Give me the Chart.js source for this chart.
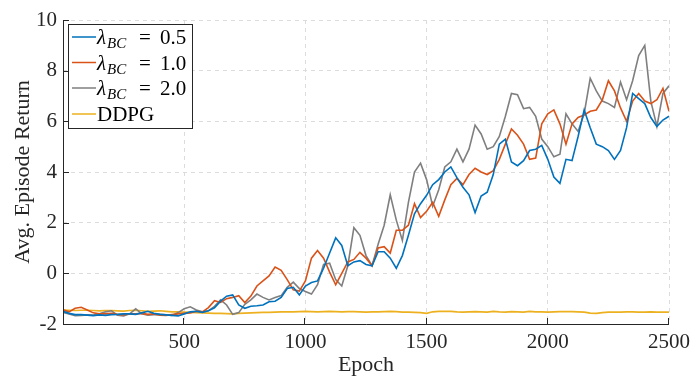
<!DOCTYPE html>
<html>
<head>
<meta charset="utf-8">
<script src="https://cdn.jsdelivr.net/npm/chart.js@4.4.1/dist/chart.umd.min.js"></script>
<style>
  html, body { margin: 0; padding: 0; background: #fff; }
  #wrap { width: 690px; height: 378px; }
</style>
</head>
<body>
<div id="wrap"><canvas id="myChart" width="690" height="378"></canvas></div>
<script>
// training curves: avg. episode return per epoch
const epochs = [
  0, 25, 50, 75, 100, 125, 150, 175, 200, 225, 250, 275, 300, 325, 350, 375, 400, 425, 450, 475,
  500, 525, 550, 575, 600, 625, 650, 675, 700, 725, 750, 775, 800, 825, 850, 875, 900, 925, 950, 975,
  1000, 1025, 1050, 1075, 1100, 1125, 1150, 1175, 1200, 1225, 1250, 1275, 1300, 1325, 1350, 1375, 1400, 1425, 1450, 1475,
  1500, 1525, 1550, 1575, 1600, 1625, 1650, 1675, 1700, 1725, 1750, 1775, 1800, 1825, 1850, 1875, 1900, 1925, 1950, 1975,
  2000, 2025, 2050, 2075, 2100, 2125, 2150, 2175, 2200, 2225, 2250, 2275, 2300, 2325, 2350, 2375, 2400, 2425, 2450, 2475,
  2500
];

const bc05 = [
  -1.50, -1.58, -1.63, -1.63, -1.65, -1.67, -1.64, -1.66, -1.63, -1.62, -1.60, -1.60, -1.62, -1.56, -1.50, -1.58, -1.62, -1.64, -1.66, -1.68,
  -1.60, -1.52, -1.50, -1.54, -1.48, -1.36, -1.10, -0.90, -0.85, -1.25, -1.38, -1.30, -1.28, -1.25, -1.12, -1.10, -0.95, -0.60, -0.55, -0.85,
  -0.50, -0.36, -0.30, 0.20, 0.80, 1.40, 1.10, 0.30, 0.45, 0.50, 0.35, 0.30, 0.85, 0.85, 0.60, 0.20, 0.70, 1.50, 2.35, 2.75,
  3.08, 3.50, 3.70, 4.00, 4.20, 3.78, 3.40, 3.10, 2.40, 3.05, 3.20, 3.90, 5.10, 5.30, 4.40, 4.25, 4.45, 4.85, 4.90, 5.05,
  4.50, 3.80, 3.55, 4.50, 4.45, 5.40, 6.45, 5.75, 5.10, 5.00, 4.85, 4.50, 4.85, 5.75, 7.10, 6.90, 6.70, 6.15, 5.80, 6.05,
  6.20
];

const bc10 = [
  -1.44, -1.52, -1.38, -1.34, -1.45, -1.56, -1.60, -1.60, -1.58, -1.62, -1.63, -1.60, -1.60, -1.58, -1.62, -1.60, -1.65, -1.66, -1.63, -1.60,
  -1.58, -1.56, -1.50, -1.52, -1.35, -1.08, -1.15, -1.00, -0.95, -0.88, -1.15, -0.90, -0.50, -0.30, -0.10, 0.25, 0.12, -0.25, -0.65, -0.70,
  -0.30, 0.60, 0.90, 0.60, 0.05, -0.45, 0.00, 0.45, 0.55, 0.83, 0.60, 0.30, 1.00, 1.05, 0.80, 1.70, 1.70, 1.90, 2.75, 2.20,
  2.45, 2.80, 2.25, 2.90, 3.50, 3.75, 3.50, 3.90, 4.15, 4.00, 3.90, 4.05, 4.50, 5.10, 5.70, 5.45, 5.10, 4.50, 4.55, 5.90,
  6.30, 6.45, 5.90, 5.10, 5.90, 6.15, 6.25, 6.40, 6.45, 6.85, 7.60, 7.20, 6.53, 6.00, 6.80, 7.10, 6.80, 6.70, 6.85, 7.30,
  6.40
];

const bc20 = [
  -1.54, -1.60, -1.67, -1.66, -1.64, -1.65, -1.60, -1.52, -1.48, -1.65, -1.68, -1.60, -1.40, -1.60, -1.65, -1.63, -1.62, -1.64, -1.66, -1.55,
  -1.40, -1.32, -1.45, -1.52, -1.48, -1.30, -1.05, -1.25, -1.62, -1.55, -1.22, -1.05, -0.82, -0.95, -1.05, -0.95, -0.88, -0.55, -0.35, -0.60,
  -0.72, -0.82, -0.45, 0.35, 0.40, -0.25, -0.50, 0.30, 1.80, 1.50, 0.70, 0.30, 1.15, 1.90, 3.10, 2.10, 1.30, 2.80, 4.00, 4.35,
  3.70, 2.65, 3.30, 4.20, 4.40, 4.90, 4.40, 4.90, 5.85, 5.50, 4.90, 5.00, 5.40, 6.20, 7.10, 7.05, 6.50, 6.55, 6.20, 5.30,
  5.00, 4.60, 4.70, 6.30, 5.90, 5.60, 6.30, 7.70, 7.20, 6.80, 6.70, 6.55, 7.55, 6.85, 7.60, 8.60, 9.00, 6.80, 5.80, 7.10,
  7.40
];

const ddpg = [
  -1.45, -1.46, -1.47, -1.46, -1.46, -1.47, -1.48, -1.47, -1.47, -1.48, -1.49, -1.47, -1.46, -1.48, -1.50, -1.49, -1.48, -1.50, -1.52, -1.52,
  -1.53, -1.54, -1.55, -1.56, -1.57, -1.58, -1.58, -1.59, -1.60, -1.58, -1.57, -1.56, -1.55, -1.54, -1.54, -1.53, -1.52, -1.52, -1.52, -1.51,
  -1.50, -1.51, -1.52, -1.51, -1.50, -1.51, -1.52, -1.51, -1.51, -1.52, -1.53, -1.52, -1.52, -1.51, -1.50, -1.51, -1.53, -1.53, -1.54, -1.55,
  -1.58, -1.52, -1.50, -1.50, -1.50, -1.52, -1.53, -1.52, -1.51, -1.52, -1.53, -1.50, -1.52, -1.53, -1.51, -1.52, -1.53, -1.50, -1.52, -1.52,
  -1.53, -1.52, -1.51, -1.51, -1.51, -1.52, -1.53, -1.57, -1.58, -1.55, -1.53, -1.53, -1.53, -1.52, -1.52, -1.53, -1.53, -1.52, -1.53, -1.53,
  -1.53
];

const seriesNames = ['0.5', '1.0', '2.0', 'DDPG'];
const seriesColors = ['#0072BD', '#D95319', '#7F7F7F', '#EDB120'];
const yTicks = [-2, 0, 2, 4, 6, 8, 10];
const xTicks = [500, 1000, 1500, 2000, 2500];

const serif = '"Liberation Serif", "Times New Roman", serif';

function pts(vals) {
  return vals.map((v, i) => ({ x: epochs[i], y: v }));
}

// axes with inward ticks + the legend box (lambda needs a subscript, so drawn by hand)
const axesAndLegend = {
  id: 'axesAndLegend',
  afterDraw(chart) {
    const ctx = chart.ctx;
    const { left, right, top, bottom } = chart.chartArea;
    const xs = chart.scales.x, ys = chart.scales.y;
    ctx.save();
    ctx.strokeStyle = '#262626';
    ctx.lineWidth = 1;
    ctx.beginPath();
    ctx.moveTo(left + 0.5, top);
    ctx.lineTo(left + 0.5, bottom + 0.5);
    ctx.lineTo(right, bottom + 0.5);
    ctx.stroke();
    // ticks pointing into the plot
    ctx.beginPath();
    yTicks.forEach(t => {
      const py = Math.round(ys.getPixelForValue(t)) + 0.5;
      ctx.moveTo(left, py);
      ctx.lineTo(left + 6, py);
    });
    xTicks.forEach(t => {
      const px = Math.round(xs.getPixelForValue(t)) - 0.5;
      ctx.moveTo(px, bottom);
      ctx.lineTo(px, bottom - 6);
    });
    ctx.stroke();

    // legend
    const bx = 68.5, by = 24.5, bw = 124, bh = 104;
    ctx.fillStyle = '#ffffff';
    ctx.fillRect(bx, by, bw, bh);
    ctx.strokeStyle = '#262626';
    ctx.strokeRect(bx, by, bw, bh);
    const rows = [37, 62.5, 88, 114];
    rows.forEach((ry, i) => {
      ctx.strokeStyle = seriesColors[i];
      ctx.lineWidth = 1.5;
      ctx.beginPath();
      ctx.moveTo(72, ry);
      ctx.lineTo(96, ry);
      ctx.stroke();
      ctx.fillStyle = '#000';
      ctx.textBaseline = 'alphabetic';
      ctx.textAlign = 'left';
      const base = ry + 7;
      if (seriesNames[i] === 'DDPG') {
        ctx.font = '21px ' + serif;
        ctx.fillText('DDPG', 97, base);
      } else {
        ctx.font = 'italic 21px ' + serif;
        ctx.fillText('\u03BB', 97, base);
        ctx.font = 'italic 15px ' + serif;
        ctx.fillText('BC', 107, base + 4);
        ctx.font = '21px ' + serif;
        ctx.fillText('=', 139, base);
        ctx.fillText(seriesNames[i], 160, base);
      }
    });
    ctx.restore();
  }
};

const ctx = document.getElementById('myChart').getContext('2d');
const myChart = new Chart(ctx, {
  type: 'line',
  data: {
    datasets: [bc05, bc10, bc20, ddpg].map((vals, i) => ({
      label: seriesNames[i],
      data: pts(vals),
      borderColor: seriesColors[i],
      borderWidth: 1.6,
      pointRadius: 0,
      tension: 0,
      fill: false
    }))
  },
  options: {
    responsive: false,
    animation: false,
    devicePixelRatio: 1,
    layout: { padding: { top: 20, right: 21, left: 0, bottom: 0 } },
    plugins: {
      legend: { display: false },
      tooltip: { enabled: false }
    },
    scales: {
      x: {
        type: 'linear',
        min: 0,
        max: 2500,
        afterBuildTicks: s => { s.ticks = [0].concat(xTicks).map(v => ({ value: v })); },
        afterFit: s => { s.height = 54; s.paddingLeft = 0; s.paddingRight = 0; },
        grid: { color: '#dcdcdc', drawTicks: false, lineWidth: 1 },
        border: { display: false, dash: [4, 4] },
        ticks: {
          padding: 6,
          color: '#262626',
          font: { family: serif, size: 21 },
          callback: v => (v === 0 ? '' : v),
          maxRotation: 0
        },
        title: {
          display: true,
          text: 'Epoch',
          color: '#262626',
          font: { family: serif, size: 22 },
          padding: { top: 0, bottom: 0 }
        }
      },
      y: {
        min: -2,
        max: 10,
        afterBuildTicks: s => { s.ticks = yTicks.map(v => ({ value: v })); },
        afterFit: s => { s.width = 63; },
        grid: { color: '#dcdcdc', drawTicks: false, lineWidth: 1 },
        border: { display: false, dash: [4, 4] },
        ticks: {
          padding: 6,
          color: '#262626',
          font: { family: serif, size: 21 }
        },
        title: {
          display: true,
          text: 'Avg. Episode Return',
          color: '#262626',
          font: { family: serif, size: 22 },
          padding: { top: 10, bottom: 0 }
        }
      }
    }
  },
  plugins: [axesAndLegend]
});
</script>
</body>
</html>
